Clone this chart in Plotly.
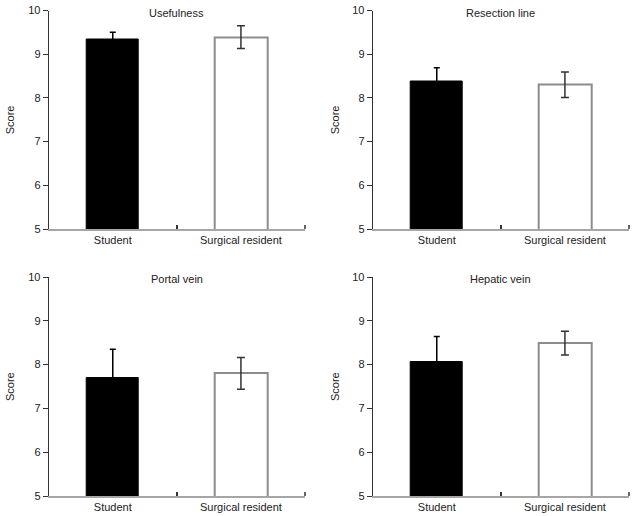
import plotly.graph_objects as go

categories = ["Student", "Surgical resident"]
panel_titles = ["Usefulness", "Resection line", "Portal vein", "Hepatic vein"]
student_scores = [9.33, 8.37, 7.70, 8.06]
student_err = [0.17, 0.32, 0.65, 0.58]
resident_scores = [9.39, 8.30, 7.80, 8.49]
resident_err = [0.26, 0.29, 0.36, 0.27]
y_ticks = [5, 6, 7, 8, 9, 10]

W, H = 636, 516
# pixel layout of each panel: (left, right, top, bottom)
panels_px = [(48.7, 305, 10.5, 229), (372.7, 629, 10.5, 229),
             (48.7, 305, 277, 496), (372.7, 629, 277, 496)]
score_x_px = [9.5, 334.5, 9.5, 334.5]

def px_x(v):
    return v / W

def px_y(v):
    return 1 - v / H

FONT = "Liberation Sans, Arial, sans-serif"
fig = go.Figure()
annotations = []
shapes = []
for i in range(4):
    sfx = "" if i == 0 else str(i + 1)
    xa, ya = "x" + sfx, "y" + sfx
    l, r, t, b = panels_px[i]
    fig.add_trace(go.Bar(
        x=[categories[0]], y=[student_scores[i]], width=0.41,
        marker=dict(color="black", line=dict(color="black", width=1)),
        error_y=dict(type="data", array=[student_err[i]], color="black",
                     thickness=1.5, width=3),
        xaxis=xa, yaxis=ya, showlegend=False, hoverinfo="skip"))
    fig.add_trace(go.Bar(
        x=[categories[1]], y=[resident_scores[i]], width=0.41,
        marker=dict(color="white", line=dict(color="#8c8c8c", width=2)),
        error_y=dict(type="data", array=[resident_err[i]], color="#333333",
                     thickness=1.5, width=4),
        xaxis=xa, yaxis=ya, showlegend=False, hoverinfo="skip"))
    fig.layout["xaxis" + sfx] = dict(
        domain=[px_x(l), px_x(r)], anchor=ya, type="category", automargin=False,
        categoryorder="array", categoryarray=categories,
        range=[-0.5, 1.5], tickson="boundaries", ticks="inside", ticklen=4,
        tickcolor="#333333", tickwidth=1.5, showline=True, linecolor="#a6a6a6",
        linewidth=2, showgrid=False, zeroline=False,
        tickfont=dict(family=FONT, size=11, color="#222222"))
    fig.layout["yaxis" + sfx] = dict(
        domain=[px_y(b), px_y(t)], anchor=xa, range=[5, 10], automargin=False,
        tickvals=y_ticks, ticks="outside", ticklen=5, tickcolor="#333333",
        showline=True, linecolor="#333333", linewidth=1, showgrid=False,
        zeroline=False, tickfont=dict(family=FONT, size=11, color="#222222"))
    # end tick of the x axis
    shapes.append(dict(type="line", xref="x" + sfx + " domain", yref="y" + sfx + " domain",
                       x0=1, x1=1, y0=0, y1=4 / (b - t),
                       line=dict(color="#333333", width=1.5)))
    annotations.append(dict(
        text=panel_titles[i], xref="x" + sfx + " domain", yref="y" + sfx + " domain",
        x=0.5, y=1, xanchor="center", yanchor="top", yshift=6, showarrow=False,
        font=dict(family=FONT, size=11, color="#222222")))
    annotations.append(dict(
        text="Score", xref="paper", yref="y" + sfx + " domain",
        x=px_x(score_x_px[i]), y=0.5, xanchor="center", yanchor="middle",
        textangle=-90, showarrow=False,
        font=dict(family=FONT, size=11, color="#222222")))

fig.update_layout(
    width=W, height=H, margin=dict(l=0, r=0, t=0, b=0, autoexpand=False),
    paper_bgcolor="white", plot_bgcolor="white", bargap=0,
    annotations=annotations, shapes=shapes)
fig.write_html("out.html", config={"displayModeBar": False},
               post_script="document.body.style.margin='0';document.body.style.overflow='hidden';")
